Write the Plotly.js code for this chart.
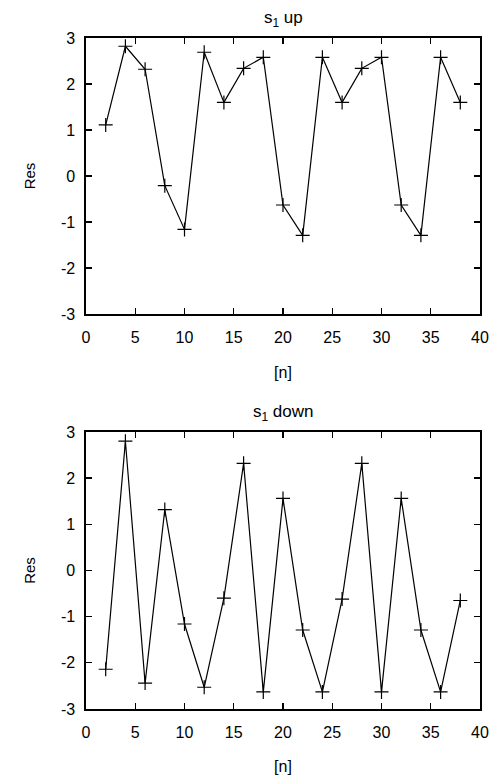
<!DOCTYPE html>
<html>
<head>
<meta charset="utf-8">
<script src="https://cdn.plot.ly/plotly-3.0.1.min.js"></script>
<style>html,body{margin:0;padding:0;background:#fff;}#chart{width:503px;height:775px;}</style>
</head>
<body>
<div id="chart"></div>
<script>
const n = [2,4,6,8,10,12,14,16,18,20,22,24,26,28,30,32,34,36,38];
const resUp = [1.11,2.82,2.32,-0.21,-1.16,2.69,1.60,2.34,2.58,-0.63,-1.29,2.58,1.60,2.34,2.58,-0.63,-1.29,2.58,1.60];
const resDown = [-2.14,2.80,-2.44,1.32,-1.16,-2.53,-0.60,2.32,-2.63,1.56,-1.29,-2.63,-0.62,2.32,-2.63,1.56,-1.29,-2.63,-0.65];
const xTicks = [0,5,10,15,20,25,30,35,40];
const yTicks = [-3,-2,-1,0,1,2,3];
const titles = ['s<sub>1</sub> up', 's<sub>1</sub> down'];

const FONT = 'Liberation Sans, Arial, Helvetica, sans-serif';
const markerStyle = {symbol:'cross-thin', size:10, line:{color:'#000', width:1.2}, color:'#000'};
const lineStyle = {color:'#000', width:1.2};

const traces = [
  {x:n, y:resUp, xaxis:'x', yaxis:'y', mode:'lines+markers', line:lineStyle, marker:markerStyle},
  {x:n, y:resDown, xaxis:'x2', yaxis:'y2', mode:'lines+markers', line:lineStyle, marker:markerStyle}
];

function xAx(anchor){
  return {anchor:anchor, domain:[0,1], range:[0,40], tickvals:xTicks, ticktext:xTicks.map(String),
    ticks:'inside', ticklen:6, tickwidth:1.3, tickcolor:'#000', showline:true, linewidth:1.6, linecolor:'#000',
    mirror:'ticks', showgrid:false, zeroline:false, tickfont:{family:FONT,size:16,color:'#000'},
    ticklabelstandoff:8,
    title:{text:'[n]', font:{family:FONT,size:16,color:'#000'}, standoff:22}};
}
function yAx(anchor, dom){
  return {anchor:anchor, domain:dom, range:[-3,3], tickvals:yTicks, ticktext:yTicks.map(String),
    ticks:'inside', ticklen:6, tickwidth:1.3, tickcolor:'#000', showline:true, linewidth:1.6, linecolor:'#000',
    mirror:'ticks', showgrid:false, zeroline:false, tickfont:{family:FONT,size:16,color:'#000'},
    ticklabelstandoff:6,
    title:{text:'Res', font:{family:FONT,size:15,color:'#000'}, standoff:22}};
}

const layout = {
  width:503, height:775, showlegend:false,
  paper_bgcolor:'#fff', plot_bgcolor:'#fff',
  margin:{l:86, r:23, t:0, b:0},
  xaxis: xAx('y'),
  yaxis: yAx('x', [0.5948, 0.9510]),
  xaxis2: xAx('y2'),
  yaxis2: yAx('x2', [0.0852, 0.4426]),
  annotations:[
    {text:titles[0], xref:'paper', yref:'paper', x:0.5, y:0.9510, yanchor:'bottom', yshift:6, showarrow:false, font:{family:FONT,size:17,color:'#000'}},
    {text:titles[1], xref:'paper', yref:'paper', x:0.5, y:0.4426, yanchor:'bottom', yshift:6, showarrow:false, font:{family:FONT,size:17,color:'#000'}}
  ]
};

Plotly.newPlot('chart', traces, layout, {displayModeBar:false, staticPlot:true});
</script>
</body>
</html>
